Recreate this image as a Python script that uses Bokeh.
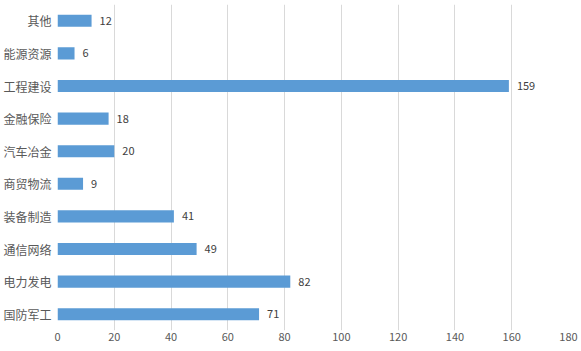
from bokeh.plotting import figure
from bokeh.models import ColumnDataSource, FactorRange, Range1d, FixedTicker
from bokeh.core.properties import value
from bokeh.embed import file_html
from bokeh.resources import INLINE

categories = ["国防军工", "电力发电", "通信网络", "装备制造", "商贸物流",
              "汽车冶金", "金融保险", "工程建设", "能源资源", "其他"]
values = [71, 82, 49, 41, 9, 20, 18, 159, 6, 12]
x_ticks = [0, 20, 40, 60, 80, 100, 120, 140, 160, 180]

src = ColumnDataSource(dict(cat=categories, val=values, lab=[str(v) for v in values]))

p = figure(width=581, height=351, output_backend="svg", toolbar_location=None,
           y_range=FactorRange(factors=categories, range_padding=0),
           x_range=Range1d(0, 180),
           min_border_left=54, min_border_right=13, min_border_top=4, min_border_bottom=21)
p.outline_line_color = None
p.background_fill_color = "white"
p.border_fill_color = "white"

p.hbar(y="cat", right="val", left=0, height=0.37, source=src, color="#5B9BD5", line_color=None)
p.text(x="val", y="cat", text="lab", source=src, x_offset=8, text_baseline="middle",
       text_align="left", text_font=value("Noto Sans CJK SC"), text_font_size="11px",
       text_color="#404040")

p.xaxis.ticker = FixedTicker(ticks=x_ticks)
p.xgrid.ticker = FixedTicker(ticks=x_ticks)
p.xgrid.grid_line_color = "#D9D9D9"
p.xgrid.grid_line_width = 1
p.ygrid.grid_line_color = None

for ax in (p.xaxis, p.yaxis):
    ax.axis_line_color = None
    ax.major_tick_line_color = None
    ax.minor_tick_line_color = None
    ax.major_tick_out = 0
    ax.major_tick_in = 0
    ax.minor_tick_out = 0
    ax.major_label_text_font = "Noto Sans CJK SC"
    ax.major_label_text_color = "#595959"

p.xaxis.major_label_text_font_size = "11px"
p.xaxis.major_label_standoff = 2
p.yaxis.major_label_text_font_size = "12px"
p.yaxis.major_label_standoff = 6

open("out.html", "w").write(file_html(p, INLINE))
